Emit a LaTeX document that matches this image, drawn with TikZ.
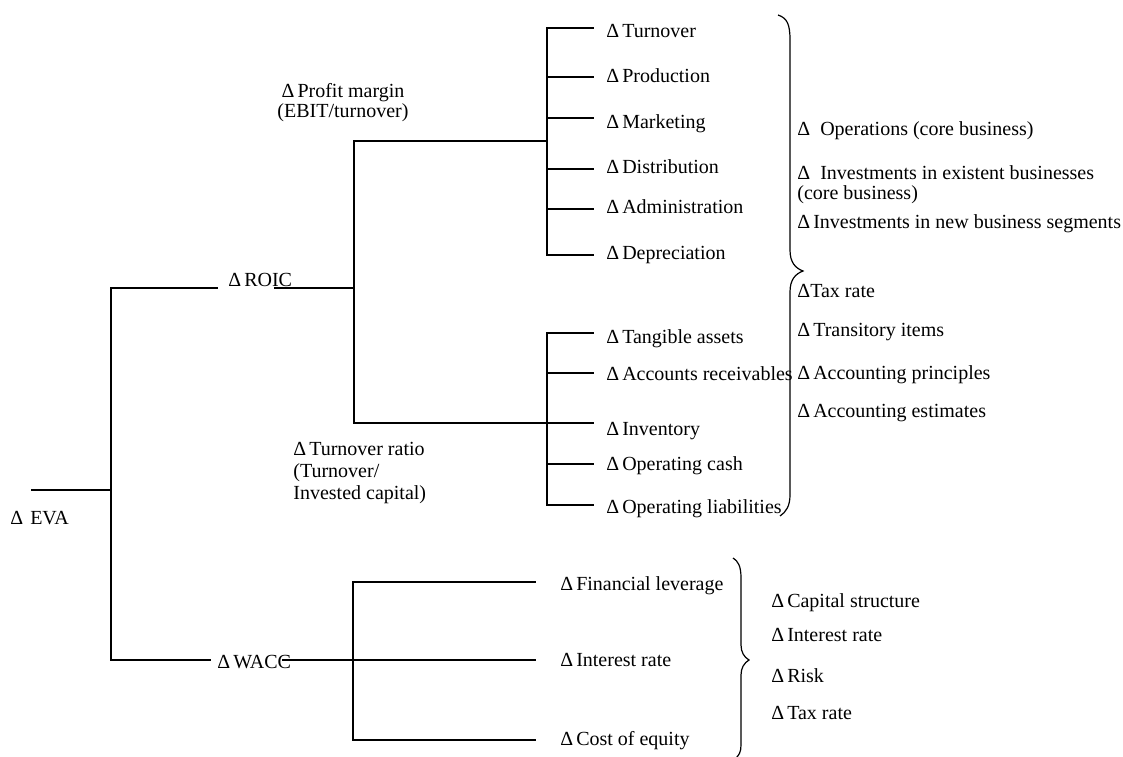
\documentclass[tikz,border=0pt]{standalone}
\usepackage{fontspec}
\setmainfont{Liberation Serif}
\newcommand{\mydelta}{Δ\hspace{1.5pt}}
\begin{document}
\begin{tikzpicture}[x=0.5pt,y=-0.5pt,
  lbl/.style={anchor=base west, inner sep=0pt, font=\fontsize{10}{12}\selectfont},
  clbl/.style={lbl, anchor=base},
  ln/.style={line width=0.6pt, line cap=rect},
  brc/.style={line width=0.6pt}]
\useasboundingbox (0,0) rectangle (1123,756);

% ---------- labels ----------
\node[lbl] (eva)  at (10,524)  {Δ\hspace{3.5pt}EVA};
\node[lbl] (roic) at (228,286) {\mydelta ROIC};
\node[lbl] (wacc) at (217,668) {\mydelta WACC};
\node[clbl] (pm1) at (343,97)  {\mydelta Profit margin};
\node[clbl] (pm2) at (343,117) {(EBIT/turnover)};
\node[lbl] (tr1) at (293,455) {\mydelta Turnover ratio};
\node[lbl] (tr2) at (293,477) {(Turnover/};
\node[lbl] (tr3) at (293,499) {Invested capital)};

\node[lbl] (t1) at (606,37)  {\mydelta Turnover};
\node[lbl] (t2) at (606,82)  {\mydelta Production};
\node[lbl] (t3) at (606,128) {\mydelta Marketing};
\node[lbl] (t4) at (606,173) {\mydelta Distribution};
\node[lbl] (t5) at (606,213) {\mydelta Administration};
\node[lbl] (t6) at (606,259) {\mydelta Depreciation};

\node[lbl] (a1) at (606,343) {\mydelta Tangible assets};
\node[lbl] (a2) at (606,380) {\mydelta Accounts receivables};
\node[lbl] (a3) at (606,435) {\mydelta Inventory};
\node[lbl] (a4) at (606,470) {\mydelta Operating cash};
\node[lbl] (a5) at (606,513) {\mydelta Operating liabilities};

\node[lbl] (r1)  at (797,135) {Δ\hspace{5pt}Operations (core business)};
\node[lbl] (r2a) at (797,179) {Δ\hspace{5pt}Investments in existent businesses};
\node[lbl] (r2b) at (797,199) {(core business)};
\node[lbl] (r3)  at (797,228) {\mydelta Investments in new business segments};
\node[lbl] (r4)  at (797,297) {ΔTax rate};
\node[lbl] (r5)  at (797,336) {\mydelta Transitory items};
\node[lbl] (r6)  at (797,379) {\mydelta Accounting principles};
\node[lbl] (r7)  at (797,417) {\mydelta Accounting estimates};

\node[lbl] (w1) at (560,590) {\mydelta Financial leverage};
\node[lbl] (w2) at (560,666) {\mydelta Interest rate};
\node[lbl] (w3) at (560,745) {\mydelta Cost of equity};

\node[lbl] (s1) at (771,607) {\mydelta Capital structure};
\node[lbl] (s2) at (771,641) {\mydelta Interest rate};
\node[lbl] (s3) at (771,682) {\mydelta Risk};
\node[lbl] (s4) at (771,719) {\mydelta Tax rate};

% ---------- junction coordinates ----------
\coordinate (evaL) at (32,490);
\coordinate (evaJ) at (111,490);
\coordinate (jTop) at (111,288);
\coordinate (jBot) at (111,660);
\coordinate (roicL) at (217,288);
\coordinate (roicR) at (275,288);
\coordinate (rJ)   at (354,288);
\coordinate (rTop) at (354,141);
\coordinate (rBot) at (354,423);
\coordinate (pJ)   at (547,141);
\coordinate (pTop) at (547,28);
\coordinate (pBot) at (547,255);
\coordinate (aTop) at (547,333);
\coordinate (aBot) at (547,505);
\coordinate (waccL) at (210,660);
\coordinate (waccR) at (283,660);
\coordinate (wTop) at (353,582);
\coordinate (wBot) at (353,740);

% ---------- tree lines ----------
\draw[ln] (evaL) -- (evaJ);
\draw[ln] (jTop) -- (jBot);
\draw[ln] (jTop) -- (roicL);
\draw[ln] (roicR) -- (rJ);
\draw[ln] (rTop) -- (rBot);
\draw[ln] (rTop) -- (pJ);
\draw[ln] (pTop) -- (pBot);
\foreach \yy in {28,77,118,169,209,255} \draw[ln] (547,\yy) -- (593,\yy);
\draw[ln] (rBot) -- (593,423);
\draw[ln] (aTop) -- (aBot);
\foreach \yy in {333,373,464,505} \draw[ln] (547,\yy) -- (593,\yy);
\draw[ln] (jBot) -- (waccL);
\draw[ln] (waccR) -- (535,660);
\draw[ln] (wTop) -- (wBot);
\draw[ln] (wTop) -- (535,582);
\draw[ln] (wBot) -- (535,740);

% ---------- braces ----------
\draw[brc] (778,15) .. controls (787,18) and (790,24) .. (790,40)
  -- (790,250) .. controls (790,262) and (795,268) .. (803,271)
  .. controls (795,274) and (790,280) .. (790,292)
  -- (790,495) .. controls (790,506) and (786,512) .. (780,516);
\draw[brc] (733,558) .. controls (738,561) and (741,566) .. (741,578)
  -- (741,645) .. controls (741,652) and (744,657) .. (749,660)
  .. controls (744,663) and (741,668) .. (741,675)
  -- (741,745) .. controls (741,752) and (739,755) .. (736,758);
\end{tikzpicture}
\end{document}
